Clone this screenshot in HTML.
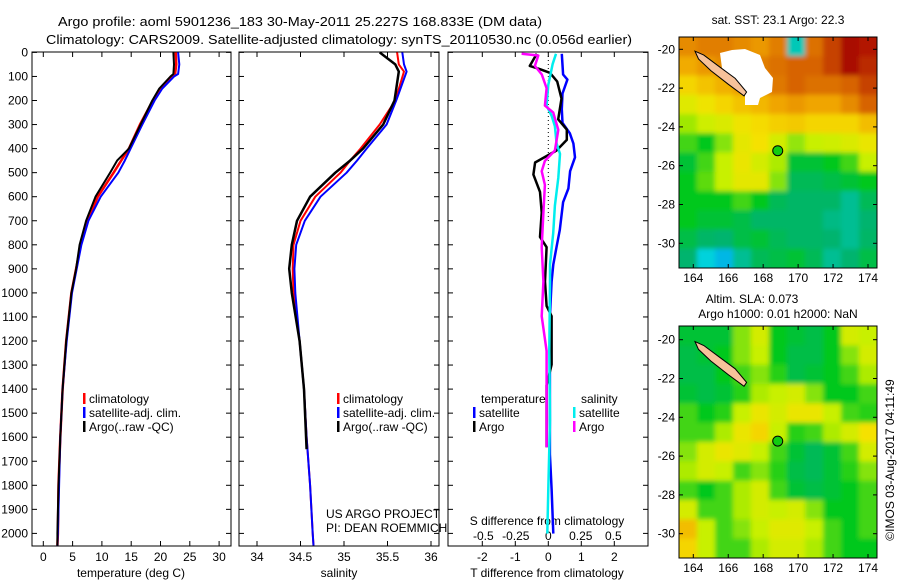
<!DOCTYPE html>
<html><head><meta charset="utf-8"><style>
html,body{margin:0;padding:0;background:#fff;}
svg{display:block;font-family:"Liberation Sans",Arial,sans-serif;}
text{fill:#000;}
</style></head><body>
<svg id="chart" width="900" height="580" viewBox="0 0 900 580" xmlns="http://www.w3.org/2000/svg">
<defs>
<filter id="blur" x="-5%" y="-5%" width="110%" height="110%"><feGaussianBlur stdDeviation="2.5"/></filter>
<clipPath id="clip1"><rect x="679" y="37" width="198" height="231"/></clipPath>
<clipPath id="clip2"><rect x="679" y="326" width="198" height="232"/></clipPath>
</defs>
<text x="58" y="26" font-size="13" textLength="484" lengthAdjust="spacingAndGlyphs">Argo profile: aoml 5901236_183 30-May-2011 25.227S 168.833E (DM data)</text>
<text x="46" y="44" font-size="13" textLength="586" lengthAdjust="spacingAndGlyphs">Climatology: CARS2009. Satellite-adjusted climatology: synTS_20110530.nc (0.056d earlier)</text>
<g id="g"></g>
</svg>
<script>
// ---- profile data ----
const depths = [0,50,90,100,150,200,300,400,450,500,600,700,800,900,1000,1200,1400,1600,1800,2000,2050];
const tClim = [22.6,22.7,22.5,21.8,20.0,18.7,16.5,14.6,13.3,12.0,9.3,7.5,6.4,5.6,4.8,3.9,3.3,2.9,2.6,2.5,2.4];
const tSat  = [23.0,23.2,23.0,22.3,20.3,19.0,16.9,14.9,13.9,12.8,9.8,7.7,6.5,5.7,4.9,4.0,3.3,2.9,2.7,2.5,2.4];
const tArgo = [22.2,22.3,22.2,21.7,19.8,18.6,16.6,14.6,12.6,11.4,8.9,7.3,6.2,5.6,4.8,3.9,3.3,2.9,2.6,2.4,2.4];
const sDepths = [0,50,80,200,300,400,450,500,600,700,800,900,1000,1200,1400,1600,1800,2000,2050];
const sClim = [35.61,35.63,35.69,35.59,35.41,35.19,35.07,34.96,34.67,34.50,34.42,34.41,34.42,34.49,34.54,34.57,34.61,34.64,34.65];
const sSat  = [35.67,35.69,35.72,35.60,35.49,35.26,35.15,35.03,34.73,34.55,34.45,34.43,34.44,34.49,34.54,34.57,34.61,34.64,34.65];
const sArgoD = [0,50,80,200,300,400,450,500,600,700,800,900,1000,1200,1400,1650];
const sArgo = [35.41,35.59,35.63,35.58,35.45,35.22,35.07,34.90,34.61,34.46,34.40,34.37,34.40,34.49,34.54,34.57];
// differences
const dTSatD = [6,92,113,171,236,293,336,379,436,494,566,623,738,810,882,953,1097,1528,1671,1815,2001];
const dTSat  = [0.41,0.45,0.58,0.43,0.41,0.43,0.65,0.76,0.81,0.66,0.61,0.45,0.35,0.25,0.15,0.10,0.05,0.05,0.05,0.10,0.15];
const dTArgoD = [6,56,70,85,121,192,278,321,364,408,458,508,580,666,767,810,953,1054,1097,1298,1384,1642];
const dTArgo  = [-0.35,-0.56,-0.25,0.05,0.27,0.40,0.30,0.56,0.56,0.25,-0.40,-0.45,-0.25,-0.20,-0.25,-0.05,-0.10,-0.05,0.10,0.10,-0.05,-0.05];
const dSSatD = [6,49,135,221,264,307,379,422,522,637,752,882,953,1241,1528,1815,2001];
const dSSat  = [0.059,0.033,0,-0.013,0.026,0.051,0.064,0.09,0.077,0.051,0.038,0.013,0.013,0.008,0.013,0,-0.008];
const dSArgoD = [6,13,56,92,149,221,250,322,408,451,494,551,666,810,953,1097,1241,1384,1642];
const dSArgo  = [-0.205,-0.077,-0.103,-0.05,-0.013,-0.026,0.038,0.077,0.051,-0.026,-0.051,-0.026,-0.038,-0.051,-0.038,-0.051,-0.013,-0.013,-0.013];
const depthTicks = [0,100,200,300,400,500,600,700,800,900,1000,1100,1200,1300,1400,1500,1600,1700,1800,1900,2000];
const tTicks = [0,5,10,15,20,25,30];
const sTicks = [34,34.5,35,35.5,36];
const sTickLabels = ["34","34.5","35","35.5","36"];
const dtTicks = [-2,-1,0,1,2];
const dsTicks = [-0.5,-0.25,0,0.25,0.5];
const dsTickLabels = ["-0.5","-0.25","0","0.25","0.5"];
// ---- map data (colour index 0..1), rows north->south ----
const sstGrid = [
[.82,.84,.84,.82,.80,.84,.25,.86,.92,.99,.97],
[.77,.80,.82,.82,.84,.86,.88,.88,.92,.99,.95],
[.70,.73,.76,.79,.82,.85,.88,.86,.86,.88,.92],
[.64,.67,.70,.73,.75,.78,.80,.78,.78,.82,.88],
[.57,.61,.63,.67,.69,.71,.72,.70,.70,.70,.74],
[.50,.45,.55,.65,.68,.62,.56,.60,.61,.63,.66],
[.42,.50,.60,.66,.62,.58,.42,.42,.45,.50,.60],
[.45,.52,.60,.65,.65,.55,.38,.38,.40,.42,.45],
[.45,.45,.45,.50,.45,.38,.36,.36,.36,.30,.38],
[.45,.42,.42,.40,.36,.36,.36,.36,.32,.30,.35],
[.40,.36,.35,.40,.42,.38,.36,.36,.35,.30,.36],
[.35,.20,.15,.30,.38,.40,.42,.38,.30,.35,.40]];
const slaGrid = [
[.42,.42,.42,.55,.62,.45,.42,.40,.45,.62,.60],
[.40,.42,.45,.55,.60,.45,.40,.40,.45,.55,.62],
[.40,.40,.45,.50,.55,.48,.40,.42,.45,.50,.58],
[.42,.40,.42,.48,.58,.60,.62,.55,.45,.45,.50],
[.50,.45,.48,.60,.66,.62,.66,.66,.60,.50,.48],
[.50,.50,.58,.66,.70,.60,.48,.50,.58,.62,.68],
[.55,.62,.66,.64,.60,.50,.42,.38,.42,.50,.62],
[.58,.62,.60,.50,.55,.48,.40,.38,.42,.48,.55],
[.50,.45,.50,.58,.62,.50,.42,.40,.42,.45,.50],
[.62,.50,.50,.58,.62,.60,.62,.55,.45,.45,.50],
[.74,.60,.50,.55,.60,.64,.64,.60,.50,.45,.50],
[.70,.60,.50,.50,.58,.62,.62,.58,.50,.45,.45]];
const lonTicks = [164,166,168,170,172,174];
const latTicks = [-20,-22,-24,-26,-28,-30];
const floatLon = 168.833, floatLat = -25.227;
const islandLon = [164.1,164.6,165.5,166.4,167.05,166.9,166.0,165.0,164.3];
const islandLat = [-20.1,-20.3,-20.9,-21.5,-22.2,-22.4,-21.8,-21.1,-20.5];

const NS="http://www.w3.org/2000/svg";
const G=document.getElementById('g');
function el(tag,attrs,parent){const e=document.createElementNS(NS,tag);for(const k in attrs)e.setAttribute(k,attrs[k]);(parent||G).appendChild(e);return e;}
function txt(x,y,s,anchor,size,parent){const t=el('text',{x:x,y:y,'font-size':size||12,'text-anchor':anchor||'start'},parent);t.textContent=s;return t;}

const TOP=52, BOT=546;
const yD=d=>52.4+d*0.2405;
const panels=[
 {x0:32,x1:231,f:v=>43.3+v*5.86,name:'temperature-panel'},
 {x0:239,x1:439,f:v=>257+(v-34)*87,name:'salinity-panel'},
 {x0:448,x1:648,f:v=>548.3+v*33,name:'difference-panel'}];
const xDS=v=>548.3+v*130;

panels.forEach((p,i)=>{
 const g=el('g',{});
 
 
 const r=el('rect',{x:p.x0,y:TOP,width:p.x1-p.x0,height:BOT-TOP,fill:'none',stroke:'#000','stroke-width':1},g);
 
 
 depthTicks.forEach(d=>{
  el('line',{x1:p.x0,x2:p.x0+5,y1:yD(d),y2:yD(d),stroke:'#000'},g);
  el('line',{x1:p.x1-5,x2:p.x1,y1:yD(d),y2:yD(d),stroke:'#000'},g);
 });
 const ticks=i==0?tTicks:i==1?sTicks:dtTicks;
 ticks.forEach(v=>{const x=p.f(v);
  el('line',{x1:x,x2:x,y1:TOP,y2:TOP+5,stroke:'#000'},g);
  el('line',{x1:x,x2:x,y1:BOT-5,y2:BOT,stroke:'#000'},g);
  const t=txt(x,561,i==1?sTickLabels[sTicks.indexOf(v)]:String(v),'middle',12,g);
  
  
 });
});
depthTicks.forEach(d=>{const t=txt(28,yD(d)+4,String(d),'end',12);
 
 });
let t;
t=txt(131,577,'temperature (deg C)','middle',12);
t=txt(339,577,'salinity','middle',12);
t=txt(547,577,'T difference from climatology','middle',12);
t=txt(547,525,'S difference from climatology','middle',12);
dsTicks.forEach((v,i)=>{const tt=txt(xDS(v),540,dsTickLabels[i],'middle',12);
 
 });
t=txt(326,518,'US ARGO PROJECT','start',12);
t=txt(326,532,'PI: DEAN ROEMMICH','start',12);

// zero line
const zl=el('line',{x1:548.3,x2:548.3,y1:TOP,y2:yD(700),stroke:'#000','stroke-dasharray':'1,3'});



function line(xs,ds,fx,color,w,name){
 const pts=xs.map((v,i)=>fx(v).toFixed(1)+','+yD(ds[i]).toFixed(1)).join(' ');
 const pl=el('polyline',{points:pts,fill:'none',stroke:color,'stroke-width':w,'stroke-linejoin':'round'});
 
 
}
const fT=panels[0].f,fS=panels[1].f,fD=panels[2].f;
line(tClim,depths,fT,'#f00',2.5,'temp-climatology-line');
line(tSat,depths,fT,'#00f',2,'temp-satellite-line');
line(tArgo,depths,fT,'#000',2,'temp-argo-line');
line(sClim,sDepths,fS,'#f00',2,'sal-climatology-line');
line(sSat,sDepths,fS,'#00f',2,'sal-satellite-line');
line(sArgo,sArgoD,fS,'#000',2.5,'sal-argo-line');
line(dTSat,dTSatD,fD,'#00f',2.5,'tdiff-satellite-line');
line(dTArgo,dTArgoD,fD,'#000',2.5,'tdiff-argo-line');
line(dSSat,dSSatD,xDS,'#0ee',2.5,'sdiff-satellite-line');
line(dSArgo,dSArgoD,xDS,'#f0f',2.5,'sdiff-argo-line');

function legItem(x,y,color,label,name){
 const g=el('g',{});
 
 
 el('rect',{x:x,y:y-10,width:2.5,height:11,fill:color},g);
 if(label)txt(x+6,y,label,'start',12,g);
}
legItem(83,403,'#f00','climatology','legend-climatology');
legItem(337,403,'#f00','climatology','legend-climatology');
legItem(83,417,'#00f','satellite-adj. clim.','legend-satellite-adj');
legItem(337,417,'#00f','satellite-adj. clim.','legend-satellite-adj');
legItem(83,431,'#000','Argo(..raw -QC)','legend-argo');
legItem(337,431,'#000','Argo(..raw -QC)','legend-argo');
t=txt(481,403,'temperature','start',12);
t=txt(581,403,'salinity','start',12);
legItem(473,417,'#00f','satellite','legend-t-satellite');
legItem(473,431,'#000','Argo','legend-t-argo');
legItem(573,417,'#0ee','satellite','legend-s-satellite');
legItem(573,431,'#f0f','Argo','legend-s-argo');

// ---- maps ----
const cmapStops=[[0,[0,100,255]],[0.2,[0,210,220]],[0.35,[0,180,110]],[0.45,[0,200,30]],[0.6,[200,240,0]],[0.68,[245,225,0]],[0.78,[240,165,0]],[0.88,[215,100,0]],[1,[165,0,0]]];
function cmap(v){
 for(let i=1;i<cmapStops.length;i++){
  const a=cmapStops[i-1],b=cmapStops[i];
  if(v<=b[0]){const f=(v-a[0])/(b[0]-a[0]);
   return 'rgb('+a[1].map((c,k)=>Math.round(c+(b[1][k]-c)*f)).join(',')+')';}
 }
 return 'rgb(165,0,0)';
}
const ML=679,MR=877;
const xLon=lon=>693.3+(lon-164)*17.47;
function drawMap(grid,top,bot,y20,name,clip,whitePatch){
 const g=el('g',{});
 
 
 const yLat=lat=>y20+(-20-lat)*19.4;
 const rows=grid.length,cols=grid[0].length;
 const cw=(MR-ML)/cols,ch=(bot-top)/rows;
 const cg=el('g',{'clip-path':'url(#'+clip+')'},g);
 const bg=el('g',{filter:'url(#blur)'},cg);
 grid.forEach((row,r)=>row.forEach((v,c)=>{
  const cell=el('rect',{x:ML+c*cw-(c==0?8:0),y:top+r*ch-(r==0?8:0),width:cw+0.5+(c==0||c==cols-1?8:0),height:ch+0.5+(r==0||r==rows-1?8:0),fill:cmap(v)},bg);
  
  
 }));
 if(whitePatch){const w=el('polygon',{points:'720,53 732,50 745,49 760,55 765,68 773,78 772,92 760,98 758,105 745,105 745,95 730,80 722,68',fill:'#fff'},cg);
  }
 const isl=el('polygon',{points:islandLon.map((lo,i)=>xLon(lo).toFixed(1)+','+yLat(islandLat[i]).toFixed(1)).join(' '),fill:'#f7c29a',stroke:'#000','stroke-width':1},g);
 
 
 const fc=el('circle',{cx:xLon(floatLon),cy:yLat(floatLat),r:5,fill:'#1c1',stroke:'#000','stroke-width':1},g);
 
 
 el('rect',{x:ML,y:top,width:MR-ML,height:bot-top,fill:'none',stroke:'#000'},g);
 lonTicks.forEach(lo=>{const x=xLon(lo);
  el('line',{x1:x,x2:x,y1:top,y2:top+4,stroke:'#000'},g);
  el('line',{x1:x,x2:x,y1:bot-4,y2:bot,stroke:'#000'},g);
  const tt=txt(x,bot+14,String(lo),'middle',12,g);
  
  });
 latTicks.forEach(la=>{const y=yLat(la);
  el('line',{x1:ML,x2:ML+4,y1:y,y2:y,stroke:'#000'},g);
  el('line',{x1:MR-4,x2:MR,y1:y,y2:y,stroke:'#000'},g);
  const tt=txt(ML-4,y+4,String(la),'end',12,g);
  
  });
}
drawMap(sstGrid,37,268,49.3,'sst-map','clip1',true);
drawMap(slaGrid,326,558,339.7,'sla-map','clip2',false);
t=txt(778,24,'sat. SST: 23.1  Argo: 22.3','middle',12);
t=txt(752,303,'Altim. SLA: 0.073','middle',12);
t=txt(778,318,'Argo h1000: 0.01 h2000: NaN','middle',12);
t=txt(0,0,'©IMOS 03-Aug-2017 04:11:49','middle',12);
t.setAttribute('transform','translate(894,460) rotate(-90)');

</script>
</body></html>
